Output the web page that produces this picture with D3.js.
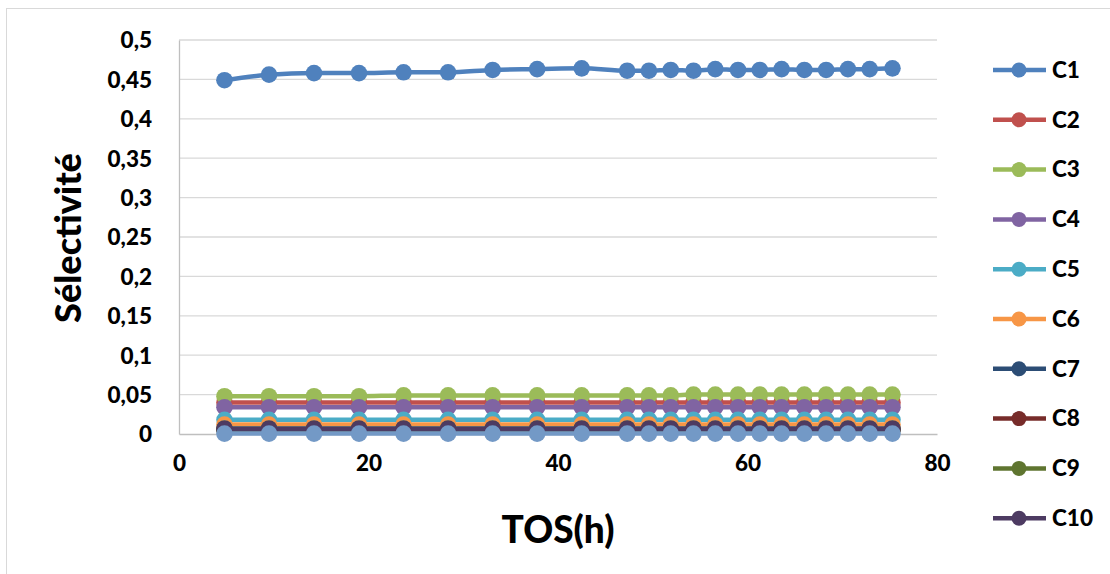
<!DOCTYPE html>
<html><head><meta charset="utf-8">
<script src="https://cdn.jsdelivr.net/npm/d3@7"></script>
<style>body{margin:0;background:#fff}svg{display:block}text{font-family:Lato,"Open Sans",sans-serif;font-weight:900;fill:#000}</style>
</head><body><svg id="c" width="1110" height="574"></svg>
<script>
const tos = [4.8, 9.5, 14.25, 19, 23.7, 28.4, 33.1, 37.8, 42.5, 47.3, 49.6, 51.9, 54.3, 56.6, 59, 61.3, 63.6, 66, 68.3, 70.6, 72.9, 75.3];
const seriesNames = ["C1","C2","C3","C4","C5","C6","C7","C8","C9","C10","C11"];
const c1  = [0.449,0.456,0.458,0.458,0.459,0.459,0.462,0.463,0.464,0.461,0.461,0.462,0.461,0.463,0.462,0.462,0.463,0.462,0.462,0.463,0.463,0.464];
const c2  = [0.040,0.040,0.040,0.040,0.040,0.040,0.040,0.040,0.040,0.040,0.040,0.040,0.040,0.040,0.040,0.040,0.040,0.040,0.040,0.040,0.040,0.040];
const c3  = [0.048,0.048,0.048,0.048,0.049,0.049,0.049,0.049,0.049,0.049,0.049,0.049,0.050,0.050,0.050,0.050,0.050,0.050,0.050,0.050,0.050,0.050];
const c4  = [0.034,0.034,0.034,0.034,0.034,0.034,0.034,0.034,0.034,0.034,0.034,0.034,0.034,0.034,0.034,0.034,0.034,0.034,0.034,0.034,0.034,0.034];
const c5  = [0.018,0.018,0.018,0.018,0.018,0.018,0.018,0.018,0.018,0.018,0.018,0.018,0.018,0.018,0.018,0.018,0.018,0.018,0.018,0.018,0.018,0.018];
const c6  = [0.012,0.012,0.012,0.012,0.012,0.012,0.012,0.012,0.012,0.012,0.012,0.012,0.012,0.012,0.012,0.012,0.012,0.012,0.012,0.012,0.012,0.012];
const c7  = [0.007,0.007,0.007,0.007,0.007,0.007,0.007,0.007,0.007,0.007,0.007,0.007,0.007,0.007,0.007,0.007,0.007,0.007,0.007,0.007,0.007,0.007];
const c8  = [0.006,0.006,0.006,0.006,0.006,0.006,0.006,0.006,0.006,0.006,0.006,0.006,0.006,0.006,0.006,0.006,0.006,0.006,0.006,0.006,0.006,0.006];
const c9  = [0.005,0.005,0.005,0.005,0.005,0.005,0.005,0.005,0.005,0.005,0.005,0.005,0.005,0.005,0.005,0.005,0.005,0.005,0.005,0.005,0.005,0.005];
const c10 = [0.006,0.006,0.006,0.006,0.006,0.006,0.006,0.006,0.006,0.006,0.006,0.006,0.006,0.006,0.006,0.006,0.006,0.006,0.006,0.006,0.006,0.006];
const c11 = [0.0005,0.0005,0.0005,0.0005,0.0005,0.0005,0.0005,0.0005,0.0005,0.0005,0.0005,0.0005,0.0005,0.0005,0.0005,0.0005,0.0005,0.0005,0.0005,0.0005,0.0005,0.0005];
const colors = ["#4F81BD","#C0504D","#9BBB59","#8064A2","#4BACC6","#F79646","#2C4D75","#772C2A","#5F7530","#4D3B62","#7399C6"];
const yTicks = [0,0.05,0.1,0.15,0.2,0.25,0.3,0.35,0.4,0.45,0.5];
const xTicks = [0,20,40,60,80];
const legendCount = 10;

const allValues = [c1,c2,c3,c4,c5,c6,c7,c8,c9,c10,c11];
const svg = d3.select("#c");
svg.append("rect").attr("x",6.5).attr("y",8.5).attr("width",1110).attr("height",600)
  .attr("fill","#fff").attr("stroke","#d9d9d9");

const L=179, R=937, T=40, B=434;
const x = d3.scaleLinear().domain([0,80]).range([L,R]);
const y = d3.scaleLinear().domain([0,0.5]).range([B,T]);
const fmt = d => String(d).replace(".", ",");

svg.append("g").selectAll("line").data(yTicks.filter(d=>d>0)).join("line")
  .attr("x1",L).attr("x2",R).attr("y1",d=>y(d)).attr("y2",d=>y(d))
  .attr("stroke","#d9d9d9").attr("stroke-width",1.3);

const gy = svg.append("g").attr("transform",`translate(${L},0)`)
  .call(d3.axisLeft(y).tickValues(yTicks).tickFormat(fmt).tickSize(0).tickPadding(27));
gy.select(".domain").attr("stroke","#bfbfbf").attr("stroke-width",1.3);
gy.selectAll("text").style("font-size","22.5px").style("font-family","Lato").style("font-weight","900").attr("dy","0.35em");

const gx = svg.append("g").attr("transform",`translate(0,${B})`)
  .call(d3.axisBottom(x).tickValues(xTicks).tickSize(0).tickPadding(21));
gx.select(".domain").attr("stroke","#bfbfbf").attr("stroke-width",1.3);
gx.selectAll("text").style("font-size","22.5px").style("font-family","Lato").style("font-weight","900");

svg.append("text").attr("transform","translate(81,238) rotate(-90)").attr("text-anchor","middle")
  .style("font-size","36px").text("Sélectivité");
svg.append("text").attr("x",558).attr("y",543).attr("text-anchor","middle")
  .style("font-size","37px").text("TOS(h)");

const line = d3.line().x((d,i)=>x(tos[i])).y(d=>y(d)).curve(d3.curveMonotoneX);
allValues.forEach((vals,s)=>{
  const g = svg.append("g");
  g.append("path").datum(vals).attr("d",line).attr("fill","none")
    .attr("stroke",colors[s]).attr("stroke-width",4.5);
  g.selectAll("circle").data(vals).join("circle")
    .attr("cx",(d,i)=>x(tos[i])).attr("cy",d=>y(d)).attr("r",8.3).attr("fill",colors[s]);
});

const lg = svg.append("g");
for(let s=0;s<legendCount;s++){
  const ly = 70 + s*49.8;
  lg.append("line").attr("x1",993).attr("x2",1046).attr("y1",ly).attr("y2",ly)
    .attr("stroke",colors[s]).attr("stroke-width",4.5);
  lg.append("circle").attr("cx",1019).attr("cy",ly).attr("r",7.5).attr("fill",colors[s]);
  lg.append("text").attr("x",1052).attr("y",ly).attr("dy","0.35em").style("font-size","22.5px").text(seriesNames[s]);
}
</script></body></html>
